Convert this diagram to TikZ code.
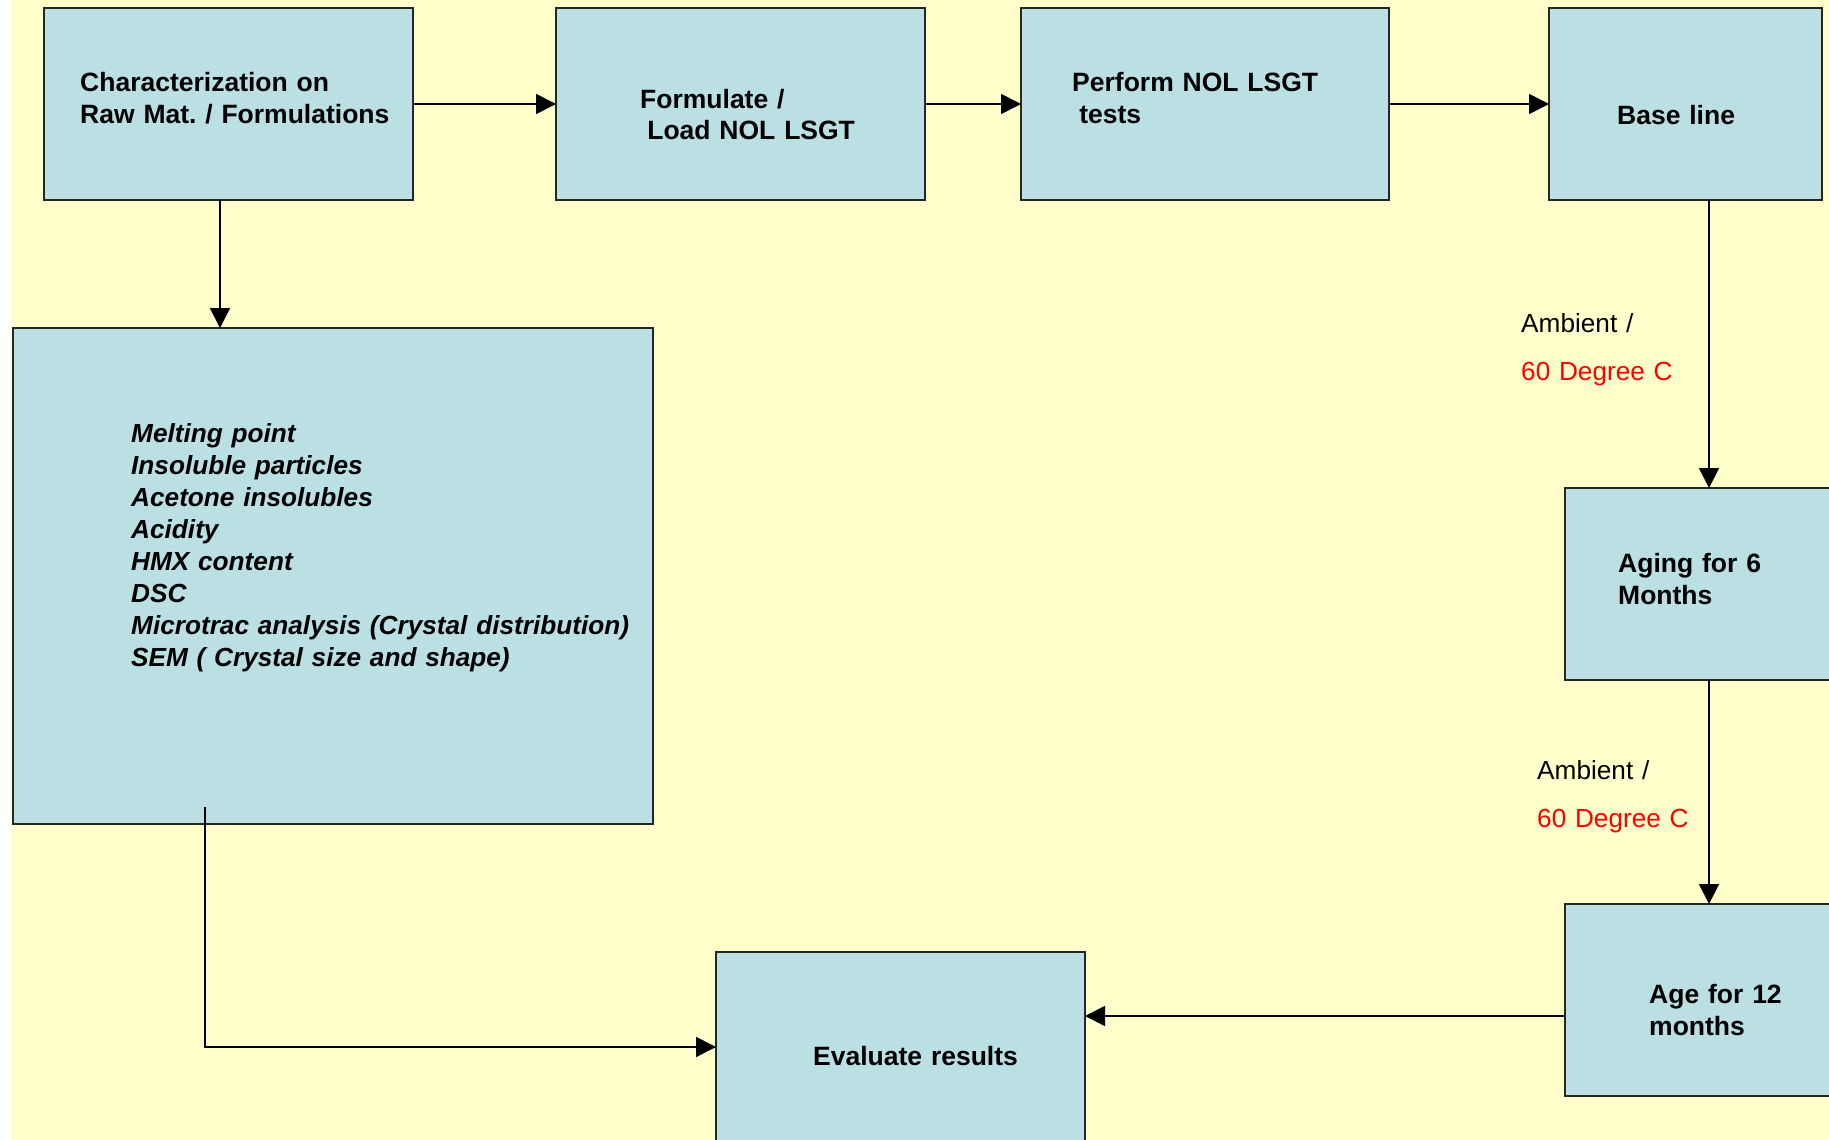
\documentclass[tikz,border=0pt]{standalone}
\usepackage{fontspec}
\setmainfont{Liberation Sans}
\usetikzlibrary{arrows.meta}
\definecolor{bgyellow}{RGB}{255,255,204}
\definecolor{boxblue}{RGB}{187,224,227}
\definecolor{lblred}{RGB}{255,0,0}
\frenchspacing
\begin{document}
\begin{tikzpicture}[x=1pt,y=-1pt,
  box/.style={draw=black!85, line width=1.8pt, fill=boxblue, rectangle, inner sep=0pt, outer sep=0pt},
  txt/.style={anchor=base west, inner sep=0pt, align=left, text width=600pt,
    font=\fontsize{26.5}{32}\selectfont\bfseries},
  itxt/.style={txt, font=\fontsize{26.2}{32}\selectfont\bfseries\itshape},
  amb/.style={anchor=base west, inner sep=0pt, align=left, text width=300pt,
    font=\fontsize{26.2}{48}\selectfont},
  arr/.style={line width=1.8pt, -{Triangle[length=20pt,width=20pt]}}
]
\useasboundingbox (0,0) rectangle (1829,1140);
\clip (0,0) rectangle (1829,1140);
\fill[white] (0,0) rectangle (1829,1140);
\fill[bgyellow] (11,0) rectangle (1829,1140);

% boxes
\node[box, minimum width=369pt, minimum height=192pt] (b1) at (228.5,104) {};
\node[box, minimum width=369pt, minimum height=192pt] (b2) at (740.5,104) {};
\node[box, minimum width=368pt, minimum height=192pt] (b3) at (1205,104) {};
\node[box, minimum width=273pt, minimum height=192pt] (b4) at (1685.5,104) {};
\node[box, minimum width=640pt, minimum height=496pt] (big) at (333,576) {};
\node[box, minimum width=335pt, minimum height=192pt] (aging) at (1732.5,584) {};
\node[box, minimum width=335pt, minimum height=192pt] (age) at (1732.5,1000) {};
\node[box, minimum width=369pt, minimum height=192pt] (eval) at (900.5,1048) {};

% texts
\node[txt] (t1) at (80,92) {Characterization on\\Raw Mat. / Formulations};
\node[txt] (t2) at (640,108) {Formulate /\\\hspace*{0.27em}Load NOL LSGT};
\node[txt] (t3) at (1072,92) {Perform NOL LSGT\\\hspace*{0.27em}tests};
\node[txt] (t4) at (1617,124) {Base line};
\node[txt] (t5) at (1618,572) {Aging for 6\\Months};
\node[txt] (t6) at (1649,1003) {Age for 12\\months};
\node[txt] (t7) at (813,1065) {Evaluate results};
\node[itxt] (t8) at (131,442) {Melting point\\Insoluble particles\\Acetone insolubles\\Acidity\\HMX content\\DSC\\Microtrac analysis (Crystal distribution)\\SEM ( Crystal size and shape)};
\node[amb] (a1) at (1521,332) {Ambient /\\\textcolor{lblred}{60 Degree C}};
\node[amb] (a2) at (1537,779) {Ambient /\\\textcolor{lblred}{60 Degree C}};

% connectors
\draw[arr] (b1.east) -- (b2.west);
\draw[arr] (b2.east) -- (b3.west);
\draw[arr] (b3.east) -- (b4.west);
\draw[arr] (220,0 |- b1.south) -- (220,0 |- big.north);
\draw[arr] (1709,0 |- b4.south) -- (1709,0 |- aging.north);
\draw[arr] (1709,0 |- aging.south) -- (1709,0 |- age.north);
\draw[arr] (age.west |- 0,1016) -- (eval.east |- 0,1016);
\coordinate (bigout) at (205,807);
\draw[arr] (bigout) |- (eval.west |- 0,1047);
\end{tikzpicture}
\end{document}
